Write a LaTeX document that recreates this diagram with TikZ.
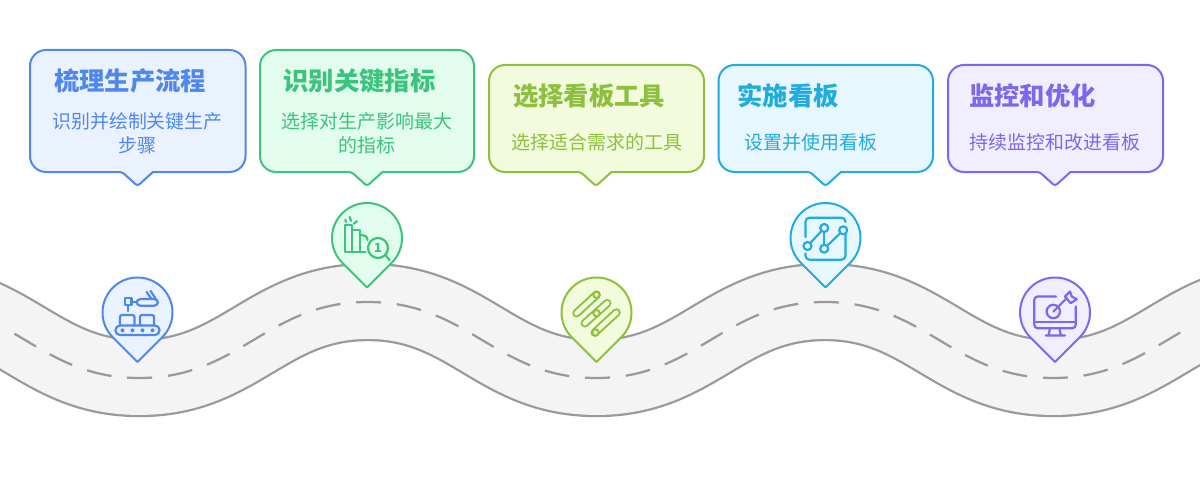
\documentclass[tikz,border=0pt]{standalone}
\usepackage{fontspec}
\newfontfamily\cjk{Noto Sans CJK SC}
\usetikzlibrary{positioning,calc}
\definecolor{blueline}{HTML}{4F88EC}
\definecolor{bluefill}{HTML}{EBF2FF}
\definecolor{greenline}{HTML}{3CC47C}
\definecolor{greenfill}{HTML}{E2FCEE}
\definecolor{limeline}{HTML}{8EBF3F}
\definecolor{limefill}{HTML}{F2FCDD}
\definecolor{cyanline}{HTML}{22ACDE}
\definecolor{cyanfill}{HTML}{E6F7FF}
\definecolor{purpleline}{HTML}{7B68EE}
\definecolor{purplefill}{HTML}{F1EEFF}
\definecolor{roadedge}{HTML}{9A9A9A}
\definecolor{roadfill}{HTML}{F4F4F4}
\tikzset{
 cardline/.style={line width=1.5pt,line join=round},
 titletext/.style={font=\cjk\bfseries\fontsize{19}{23}\selectfont},
 bodytext/.style={font=\cjk\fontsize{14.2}{18}\selectfont,align=center},
 iconline/.style={line width=1.65pt,line cap=round,line join=round},
 icondot/.style={circle,draw,line width=1.65pt,inner sep=0pt,minimum size=#1},
}
% card outline: colour, fill, left, top, right, tip x (bottom fixed at 311)
\newcommand{\speechcard}[6]{
 \draw[cardline,draw=#1,fill=#2] (#3,{#4-16}) arc[start angle=180,end angle=90,radius=16]
  -- ({#5-16},#4) arc[start angle=90,end angle=0,radius=16]
  -- (#5,327) arc[start angle=0,end angle=-90,radius=16]
  -- ({#6+15.5},311) [rounded corners=2pt] -- (#6,297) -- ({#6-15.5},311) [sharp corners]
  -- ({#3+16},311) arc[start angle=-90,end angle=-180,radius=16] -- cycle;
}
% map pin: colour, fill, centre x, centre y
\newcommand{\mappin}[4]{
 \draw[cardline,draw=#1,fill=#2] ($(#3,#4)+(0,-49.5)$) -- ($(#3,#4)+(-135:35)$)
  arc[start angle=225,end angle=-45,radius=35] -- cycle;
}
% centre line of the road, valleys and crests every 228.5
\newcommand{\roadline}{(-89.2,181)
 .. controls (11.8,181) and (38.3,105) .. (139.3,105)
 .. controls (240.3,105) and (266.8,181) .. (367.8,181)
 .. controls (468.8,181) and (495.3,105) .. (596.3,105)
 .. controls (697.3,105) and (723.8,181) .. (824.8,181)
 .. controls (925.8,181) and (952.3,105) .. (1053.3,105)
 .. controls (1154.3,105) and (1180.8,181) .. (1281.8,181)}
\begin{document}
\begin{tikzpicture}[x=0.75pt,y=0.75pt]
\useasboundingbox (0,0) rectangle (1200,483);
% road, one thick stroke so both edges stay parallel to the centre line
\begin{scope}
\clip (0,0) rectangle (1200,483);
\draw[draw=roadedge,double=roadfill,double distance=55.4pt,line width=1.7pt] \roadline;
\clip (8,0) rectangle (1186,483);
\draw[roadedge,line width=1.7pt,dash pattern=on 18.75pt off 11.85pt,dash phase=9.375pt] \roadline;
\end{scope}
% cards
\speechcard{blueline}{bluefill}{30}{433}{245.5}{137.5}
\speechcard{greenline}{greenfill}{260}{433}{474}{367}
\speechcard{limeline}{limefill}{489}{418}{704}{596}
\speechcard{cyanline}{cyanfill}{718.5}{418}{933}{825.5}
\speechcard{purpleline}{purplefill}{948}{418}{1163}{1055}
\node[titletext,text=blueline] (title1) at (130,402) {梳理生产流程};
\node[bodytext,text=blueline] (body1) at (137.5,350) {识别并绘制关键生产\\步骤};
\node[titletext,text=greenline] (title2) at (359.5,402) {识别关键指标};
\node[bodytext,text=greenline] (body2) at (367,350) {选择对生产影响最大\\的指标};
\node[titletext,text=limeline] (title3) at (589,387) {选择看板工具};
\node[bodytext,text=limeline] (body3) at (597,341) {选择适合需求的工具};
\node[titletext,text=cyanline] (title4) at (788,387) {实施看板};
\node[bodytext,text=cyanline] (body4) at (811,341) {设置并使用看板};
\node[titletext,text=purpleline] (title5) at (1032.5,387) {监控和优化};
\node[bodytext,text=purpleline] (body5) at (1055,341) {持续监控和改进看板};
% pins
\mappin{blueline}{bluefill}{137.5}{170.5}
\mappin{greenline}{greenfill}{367}{245}
\mappin{limeline}{limefill}{596.5}{170.5}
\mappin{cyanline}{cyanfill}{825.5}{245}
\mappin{purpleline}{purplefill}{1055}{170.5}
% conveyor icon
\begin{scope}[shift={(137.5,170.5)},yscale=-1,draw=blueline,iconline]
\draw[rounded corners=3.4pt] (-22,13) rectangle (22,22.5);
\foreach \xx in {-15,-5,5,15} {\fill[blueline] (\xx,17.8) circle (2);}
\draw[rounded corners=1.5pt] (-17.5,13) -- (-17.5,2.5) -- (-3,2.5) -- (-3,13);
\draw[rounded corners=1.5pt] (2.5,13) -- (2.5,2.5) -- (16.5,2.5) -- (16.5,13);
\draw (-12.7,-14.3) rectangle (-6,-7.3);
\draw (-9.3,-7.3) -- (-9.3,-1.5);
\draw (-6,-10.5) -- (-1,-10.5);
\draw[rounded corners=3pt] (-1,-13.5) rectangle (20.5,-6.7);
\draw (9,-20.7) -- (14,-13.5) (13,-21.7) -- (18.3,-13.5);
\end{scope}
% ranking icon
\begin{scope}[shift={(367,245)},yscale=-1,draw=greenline,iconline]
\draw (-15,14) -- (-21.7,14) -- (-21.7,-12.7) -- (-15,-12.7) -- (-15,14) -- (-7.3,14) -- (-7.3,-7.7) -- (-15,-7.7);
\draw (-7.3,14) -- (-1.5,14);
\draw (-7.3,-2.7) .. controls (-2,-3) and (0,-2) .. (0.5,2);
\draw (11,10) circle (10);
\draw (18.5,17) -- (22.7,22.3);
\draw (-21.7,-18.3) -- (-21,-16) (-17.3,-21) -- (-16,-17) (-10,-16.7) -- (-13.3,-14.3);
\node[font=\cjk\bfseries\fontsize{9.5}{9.5}\selectfont,text=greenline,inner sep=0pt] (rank) at (11,10) {1};
\end{scope}
% kanban capsule icon
\begin{scope}[shift={(596.5,170.5)},yscale=-1,line cap=round]
\foreach \ax/\ay/\bx/\by in {-20/0.7/0/-17.7,-11.7/10.7/10.7/-9.3,-1.7/20/20/0} {
 \draw[limeline,line width=6.4pt] (\ax,\ay) -- (\bx,\by);
 \draw[limefill,line width=3.4pt] (\ax,\ay) -- (\bx,\by);
}
\draw[limeline,fill=limefill,line width=1.5pt] (0,-17.7) circle (3.2) (0,0.7) circle (3.2) (-1,20) circle (3.2);
\end{scope}
% chart icon
\begin{scope}[shift={(825.5,245)},yscale=-1,draw=cyanline,iconline]
\draw[rounded corners=3pt] (-20,-1) -- (-20,-20.3) -- (20,-20.3) -- (20,-16);
\draw[rounded corners=3pt] (20,-8) -- (20,21.7) -- (-20,21.7) -- (-20,15.5);
\node[icondot=6pt,draw=cyanline,fill=cyanfill] (dota) at (-18,8) {};
\node[icondot=6pt,draw=cyanline,fill=cyanfill] (dotb) at (-1.3,-10) {};
\node[icondot=6pt,draw=cyanline,fill=cyanfill] (dotc) at (-1.3,10.7) {};
\node[icondot=6pt,draw=cyanline,fill=cyanfill] (dotd) at (17.7,-7.7) {};
\draw (dota) -- (dotb);
\draw (dotb) -- (dotc);
\draw (dotc) -- (dotd);
\end{scope}
% monitor target icon
\begin{scope}[shift={(1055,170.5)},yscale=-1,draw=purpleline,iconline]
\draw[rounded corners=2.5pt] (1,-16) -- (-20.7,-16) -- (-20.7,15.7) -- (20.7,15.7) -- (20.7,-6);
\draw (-20.7,9.7) -- (20.7,9.7);
\draw (-5,15.7) -- (-6.5,23) (4.3,15.7) -- (6,23) (-9.3,23) -- (10,23);
\draw (-1.7,-1) circle (6.7);
\draw (-1.7,-1) -- (11.7,-14.3);
\draw (10,-16) -- (15,-21) -- (16.7,-16) -- (21.7,-13.3) -- (15.7,-9.3) -- cycle;
\end{scope}
\end{tikzpicture}
\end{document}
